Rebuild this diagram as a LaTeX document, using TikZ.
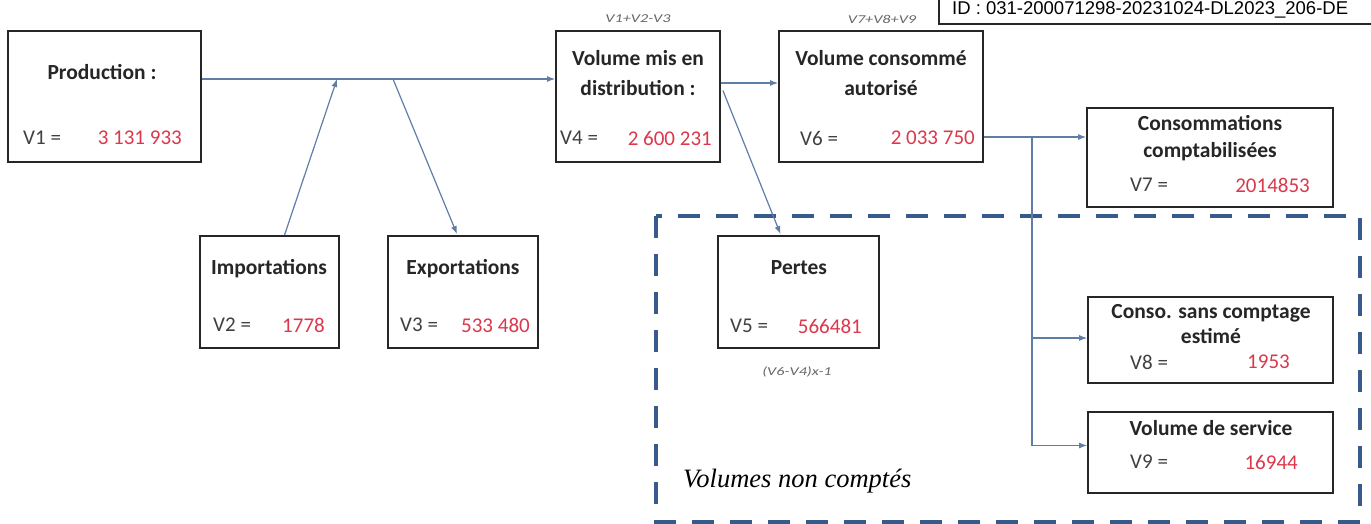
\documentclass[tikz,border=0pt]{standalone}
\usepackage{fontspec}
\setmainfont{Carlito}
\newfontfamily\serifit{Liberation Serif}
\newfontfamily\arialf{Liberation Sans}
\usetikzlibrary{arrows.meta,calc}
\definecolor{linkc}{RGB}{95,125,165}
\definecolor{dashc}{RGB}{55,90,140}
\definecolor{valred}{RGB}{220,55,75}
\begin{document}
\begin{tikzpicture}[x=1pt,y=-1pt,
  box/.style={draw=black!85, line width=1.8pt, fill=white, inner sep=0pt},
  ttl/.style={font=\fontsize{21.5}{24}\selectfont\bfseries, text=black!85, inner sep=0pt},
  lab/.style={font=\fontsize{21}{24}\selectfont, text=black!75, inner sep=0pt, anchor=west},
  val/.style={font=\fontsize{21}{24}\selectfont, text=valred, inner sep=0pt, anchor=east},
  frm/.style={font=\fontsize{12}{13}\selectfont\itshape, text=black!60, inner sep=0pt},
  link/.style={draw=linkc, line width=1.2pt},
  arr/.style={link, -{Latex[length=8pt,width=6pt]}},
  dashbox/.style={draw=dashc, line width=4.5pt, dash pattern=on 22pt off 16pt}]
\useasboundingbox (0,0) rectangle (1371,524);

% dashed area
\draw[dashbox] (656,216) rectangle (1360,522);
\node[font=\serifit\fontsize{26.5}{30}\selectfont\itshape, anchor=west, inner sep=0pt] (nc) at (683,481) {Volumes non comptés};

% boxes
\node[box, minimum width=193pt, minimum height=131pt] (prod) at (104.5,96.5) {};
\node[box, minimum width=139pt, minimum height=112pt] (imp) at (269.5,292) {};
\node[box, minimum width=150pt, minimum height=112pt] (exp) at (463,292) {};
\node[box, minimum width=164pt, minimum height=131pt] (vmd) at (638,96.5) {};
\node[box, minimum width=204pt, minimum height=131pt] (vca) at (881,96.5) {};
\node[box, minimum width=161pt, minimum height=112pt] (pert) at (798.5,292) {};
\node[box, minimum width=246pt, minimum height=99pt] (v7) at (1210,157.5) {};
\node[box, minimum width=245pt, minimum height=86pt] (v8) at (1210.5,340) {};
\node[box, minimum width=245pt, minimum height=81pt] (v9) at (1210.5,452.5) {};

% texts
\node[ttl] (t1) at (102,72) {Production :};
\node[lab] (l1) at (23,138) {V1 =};
\node[val] (n1) at (182,138) {3 131 933};

\node[ttl] (t2) at (269,269) {Importations};
\node[lab] (l2) at (213,325) {V2 =};
\node[val] (n2) at (325,325) {1778};

\node[ttl] (t3) at (463,269) {Exportations};
\node[lab] (l3) at (400,325) {V3 =};
\node[val] (n3) at (530,325) {533 480};

\node[ttl] (t4a) at (638,58) {Volume mis en};
\node[ttl] (t4b) at (638,88) {distribution :};
\node[lab] (l4) at (560,138) {V4 =};
\node[val] (n4) at (712,138) {2 600 231};
\node[frm] (f4) at (638,19) {\scalebox{1.35}[1]{V1+V2-V3}};

\node[ttl] (t6a) at (881,58) {Volume consommé};
\node[ttl] (t6b) at (881,88) {autorisé};
\node[lab] (l6) at (800,138) {V6 =};
\node[val] (n6) at (975,138) {2 033 750};
\node[frm] (f6) at (882,19) {\scalebox{1.35}[1]{V7+V8+V9}};

\node[ttl] (t5) at (799,268) {Pertes};
\node[lab] (l5) at (730,326) {V5 =};
\node[val] (n5) at (862,326) {566481};
\node[frm] (f5) at (797,372) {\scalebox{1.35}[1]{(V6-V4)x-1}};

\node[ttl] (t7a) at (1210,123) {Consommations};
\node[ttl] (t7b) at (1210,152) {comptabilisées};
\node[lab] (l7) at (1130,185) {V7 =};
\node[val] (n7) at (1310,185) {2014853};

\node[ttl] (t8a) at (1211,313) {Conso. sans comptage};
\node[ttl] (t8b) at (1211,336) {estimé};
\node[lab] (l8) at (1130,362) {V8 =};
\node[val] (n8) at (1290,362) {1953};

\node[ttl] (t9) at (1211,428) {Volume de service};
\node[lab] (l9) at (1130,462) {V9 =};
\node[val] (n9) at (1298,462) {16944};

% ID box
\node[draw=black!85, line width=1.6pt, fill=white, anchor=south west, minimum width=440pt, minimum height=30pt, inner sep=0pt] (idb) at (938,25) {};
\node[font=\arialf\fontsize{18.5}{20}\selectfont, anchor=west, inner sep=0pt] (idt) at (952,10) {ID : 031-200071298-20231024-DL2023\_206-DE};

% connectors
\coordinate (ja) at (337,79);
\coordinate (jb) at (393,79);
\coordinate (jv) at (1032,137);
\draw[arr] (prod.east |- ja) -- (vmd.west |- ja);
\draw[arr] ($(imp.north)+(15,0)$) -- (ja);
\draw[arr] (jb) -- ($(exp.north)+(-6,-1)$);
\draw[arr] ($(vmd.east)+(0,-13.5)$) -- ($(vca.west)+(0,-13.5)$);
\draw[arr] ($(vmd.east)+(2,-6)$) -- ($(pert.north)+(-18,-1)$);
\draw[link] (vca.east |- jv) -- (jv);
\draw[arr] (jv) -- (v7.west |- jv);
\draw[arr] (jv) |- ($(v8.west)+(0,-2)$);
\draw[arr] (jv) |- ($(v9.west)+(0,-7)$);
\end{tikzpicture}
\end{document}
